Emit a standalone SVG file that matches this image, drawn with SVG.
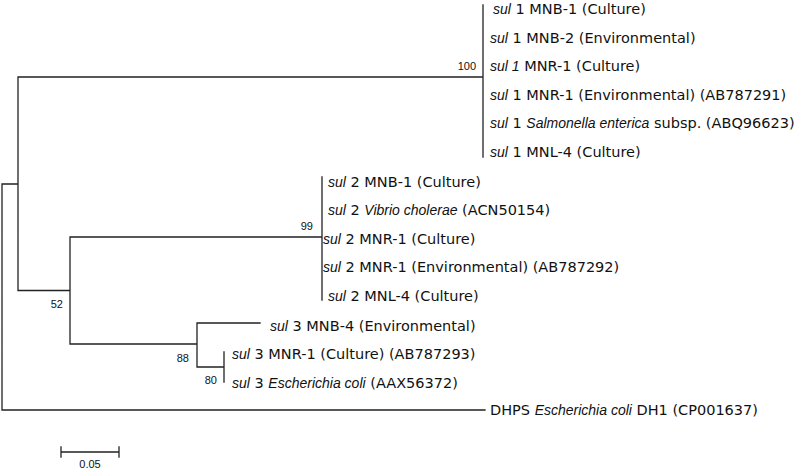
<svg xmlns="http://www.w3.org/2000/svg" width="797" height="469" viewBox="0 0 797 469">
<style>
.br{stroke:#222;stroke-width:1.3;fill:none;stroke-linecap:square}
.lb{font-family:"DejaVu Sans","Liberation Sans",sans-serif;font-size:14.5px;fill:#111}
.bs{font-family:"Liberation Sans",Arial,sans-serif;font-size:11px;fill:#111}
.i{font-family:"Liberation Sans",Arial,sans-serif;font-style:italic;font-size:14px}
</style>
<rect width="797" height="469" fill="#fff"/>
<g id="connectors">
<path class="br" d="M2,184 V410 M2,184 H18 M18,77 V290.5 M18,77 H483 M483,5 V157 M18,290.5 H70 M70,237 V344 M70,237 H322 M322,177 V300 M70,344 H197 M197,323 V367 M197,323 H260 M197,367 H224 M224,352 V382 M2,410 H485"/>
</g>
<g id="sul1-clade">
<text class="bs" x="476" y="70" text-anchor="end">100</text>
<text class="lb" x="493" y="14"><tspan class="i">sul</tspan> 1 MNB-1 (Culture)</text>
<text class="lb" x="490" y="42.5"><tspan class="i">sul</tspan> 1 MNB-2 (Environmental)</text>
<text class="lb" x="490" y="71"><tspan class="i">sul 1</tspan> MNR-1 (Culture)</text>
<text class="lb" x="490" y="99.5"><tspan class="i">sul</tspan> 1 MNR-1 (Environmental) (AB787291)</text>
<text class="lb" x="490" y="128"><tspan class="i">sul</tspan> 1 <tspan class="i">Salmonella enterica</tspan> subsp. (ABQ96623)</text>
<text class="lb" x="490" y="156.5"><tspan class="i">sul</tspan> 1 MNL-4 (Culture)</text>
</g>
<g id="sul2-clade">
<text class="bs" x="313" y="230" text-anchor="end">99</text>
<text class="lb" x="328" y="186.5"><tspan class="i">sul</tspan> 2 MNB-1 (Culture)</text>
<text class="lb" x="328" y="215"><tspan class="i">sul</tspan> 2 <tspan class="i">Vibrio cholerae</tspan> (ACN50154)</text>
<text class="lb" x="323" y="243.5"><tspan class="i">sul</tspan> 2 MNR-1 (Culture)</text>
<text class="lb" x="323" y="272"><tspan class="i">sul</tspan> 2 MNR-1 (Environmental) (AB787292)</text>
<text class="lb" x="328" y="300.5"><tspan class="i">sul</tspan> 2 MNL-4 (Culture)</text>
</g>
<g id="node-52">
<text class="bs" x="63" y="308" text-anchor="end">52</text>
</g>
<g id="sul3-clade">
<text class="bs" x="189" y="362" text-anchor="end">88</text>
<text class="bs" x="217" y="384" text-anchor="end">80</text>
<text class="lb" x="270" y="330.5"><tspan class="i">sul</tspan> 3 MNB-4 (Environmental)</text>
<text class="lb" x="232" y="359"><tspan class="i">sul</tspan> 3 MNR-1 (Culture) (AB787293)</text>
<text class="lb" x="232" y="387.5"><tspan class="i">sul</tspan> 3 <tspan class="i">Escherichia coli</tspan> (AAX56372)</text>
</g>
<g id="outgroup">
<text class="lb" x="490" y="414.5">DHPS <tspan class="i">Escherichia coli</tspan> DH1 (CP001637)</text>
</g>
<g id="scale-bar">
<path class="br" d="M61,452 H119 M61,447 V457 M119,447 V457"/>
<text class="bs" x="90" y="468" text-anchor="middle">0.05</text>
</g>
</svg>
